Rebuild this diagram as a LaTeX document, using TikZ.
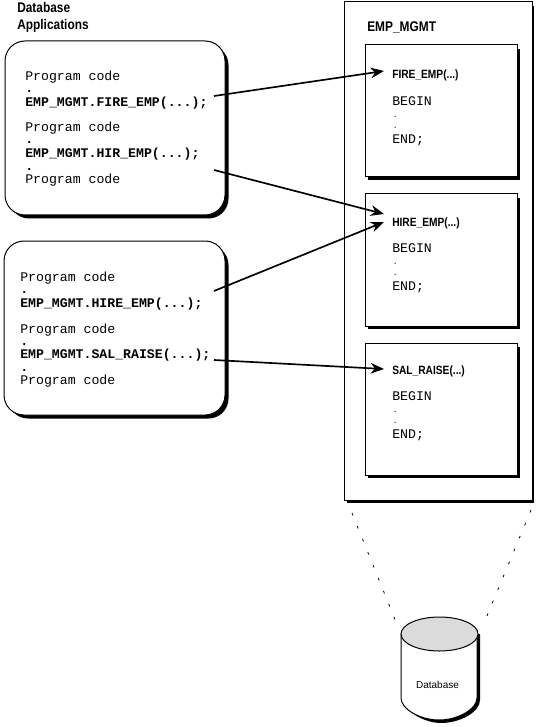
\documentclass[tikz,border=0pt]{standalone}
\usepackage{fontspec}
\setmainfont{Liberation Sans}
\newfontfamily\codefont{Liberation Mono}
\newfontfamily\titlefont[FakeStretch=0.85]{Liberation Sans}
\usetikzlibrary{arrows.meta}
\tikzset{
  x=0.75pt,y=-0.75pt,
  code/.style={anchor=base west,inner sep=0pt,font=\codefont\fontsize{9.9}{10}\selectfont},
  boldcode/.style={code,font=\codefont\bfseries\fontsize{9.9}{10}\selectfont},
  dotmark/.style={anchor=base west,inner sep=0pt,font=\codefont\fontsize{6}{7}\selectfont},
  title/.style={anchor=base west,inner sep=0pt,font=\titlefont\bfseries\fontsize{10.5}{11}\selectfont},
  proc/.style={anchor=base west,inner sep=0pt,font=\titlefont\bfseries\fontsize{9}{10}\selectfont},
  small/.style={anchor=base,inner sep=0pt,font=\fontsize{7.5}{9}\selectfont},
  outline/.style={draw=black,line width=0.75pt,fill=white},
  shade/.style={fill=black,draw=none},
  link/.style={draw=black,line width=1.25pt,-{Stealth[length=10pt,width=8pt]}},
  guide/.style={draw=black,line width=0.6pt,dash pattern=on 2pt off 8.5pt},
}
\begin{document}
\begin{tikzpicture}
\useasboundingbox (0,0) rectangle (536,727);
% Application boxes
\fill[shade,rounded corners=15pt] (9,45) rectangle (228.5,218.5);
\draw[outline,rounded corners=15pt] (5,41) rectangle (225,215);
\fill[shade,rounded corners=15pt] (8,245) rectangle (228.5,418.5);
\draw[outline,rounded corners=15pt] (4,241) rectangle (225,415);
% Package
\fill[shade] (347,6) rectangle (534,503);
\draw[outline] (344,2) rectangle (532,500);
\foreach \t in {45,194,343}{
  \fill[shade] (368,\t+4) rectangle (519.5,\t+135);
  \draw[outline] (365,\t) rectangle (517,\t+132);
}
% Texts, left
\node[title] (t1) at (17,13) {Database};
\node[title] (t2) at (17,30) {Applications};
\node[code] (a1) at (25,81) {Program code};
\node[boldcode] (a2) at (25,93) {.};
\node[boldcode] (a3) at (25,107) {EMP\_MGMT.FIRE\_EMP(...);};
\node[code] (a4) at (25,132) {Program code};
\node[boldcode] (a5) at (25,144) {.};
\node[boldcode] (a6) at (25,158) {EMP\_MGMT.HIR\_EMP(...);};
\node[boldcode] (a7) at (25,171) {.};
\node[code] (a8) at (25,184) {Program code};
\node[code] (b1) at (20,281) {Program code};
\node[boldcode] (b2) at (20,293) {.};
\node[boldcode] (b3) at (20,307) {EMP\_MGMT.HIRE\_EMP(...);};
\node[code] (b4) at (20,333) {Program code};
\node[boldcode] (b5) at (20,345) {.};
\node[boldcode] (b6) at (20,358) {EMP\_MGMT.SAL\_RAISE(...);};
\node[boldcode] (b7) at (20,371) {.};
\node[code] (b8) at (20,384) {Program code};
% Texts, right
\node[title] (p) at (367,32) {EMP\_MGMT};
\node[proc] (f) at (392,79) {FIRE\_EMP(...)};
\node[code] (f1) at (392,106) {BEGIN};
\node[dotmark] (f2) at (392.5,118) {.};
\node[dotmark] (f3) at (392.5,129) {.};
\node[code] (f4) at (392,144) {END;};
\node[proc] (h) at (392,227) {HIRE\_EMP(...)};
\node[code] (h1) at (392,252) {BEGIN};
\node[dotmark] (h2) at (392.5,264) {.};
\node[dotmark] (h3) at (392.5,275) {.};
\node[code] (h4) at (392,290) {END;};
\node[proc] (s) at (392,374) {SAL\_RAISE(...)};
\node[code] (s1n) at (392,400) {BEGIN};
\node[dotmark] (s2n) at (392.5,412) {.};
\node[dotmark] (s3n) at (392.5,423) {.};
\node[code] (s4n) at (392,438) {END;};
% Connectors
\coordinate (s1) at (214,96);  \coordinate (e1) at (384,71);
\coordinate (s2) at (214,170); \coordinate (e2) at (384,214);
\coordinate (s3) at (214,291); \coordinate (e3) at (384,222);
\coordinate (s4) at (214,360); \coordinate (e4) at (384,369);
\draw[link] (s1) -- (e1);
\draw[link] (s2) -- (e2);
\draw[link] (s3) -- (e3);
\draw[link] (s4) -- (e4);
% Database
\fill[shade] (403,634) -- (480,634) -- (480,700) .. controls (480,712) and (460,723) .. (441,723) .. controls (425,723) and (405,712) .. (403,700) -- cycle;
\draw[outline] (401,634) -- (401,698) .. controls (401,709) and (420,720) .. (439,720) .. controls (458,720) and (477,709) .. (477,698) -- (477,634);
\draw[draw=black,line width=0.75pt,fill=black!14] (439.5,634) ellipse [x radius=38.5,y radius=17];
\node[small] (db) at (437.5,688) {Database};
\coordinate (g1) at (352,513); \coordinate (g2) at (398,627);
\coordinate (g3) at (531,510); \coordinate (g4) at (484,623);
\draw[guide] (g1) -- (g2);
\draw[guide] (g3) -- (g4);
\end{tikzpicture}
\end{document}
